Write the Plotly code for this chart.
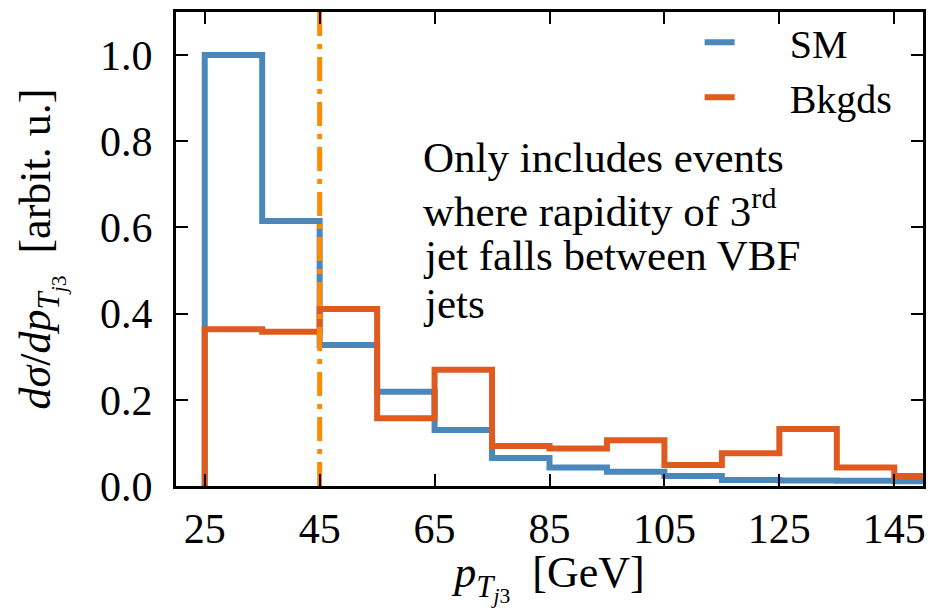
import numpy as np
import plotly.graph_objects as go

edges = [25, 35, 45, 55, 65, 75, 85, 95, 105, 115, 125, 135, 145, 155]
sm_values = [1.0, 0.615, 0.327, 0.219, 0.13, 0.065, 0.043, 0.033, 0.023, 0.014, 0.013, 0.012, 0.011]
bkg_values = [0.364, 0.358, 0.411, 0.157, 0.27, 0.093, 0.087, 0.106, 0.049, 0.076, 0.132, 0.043, 0.023]
series_names = ["SM", "Bkgds"]
cut_value = 45
x_ticks = [25, 45, 65, 85, 105, 125, 145]
y_ticks = [0.0, 0.2, 0.4, 0.6, 0.8, 1.0]
note_lines = ["Only includes events", "where rapidity of 3<sup>rd</sup>",
              "jet falls between VBF", "jets"]

SM_COLOR = "#4a87bb"
BKG_COLOR = "#de5a1e"
CUT_COLOR = "#ff8c00"
FONT = "Liberation Serif"
PAD = "\u00a0" * 5  # gap between legend line sample and label


def step_xy(e, v):
    e = np.asarray(e, float)
    v = np.asarray(v, float)
    xs = np.repeat(e, 2)
    ys = np.concatenate([[0.0], np.repeat(v, 2), [0.0]])
    return xs, ys


fig = go.Figure()
for name, vals, col in zip(series_names, [sm_values, bkg_values], [SM_COLOR, BKG_COLOR]):
    xs, ys = step_xy(edges, vals)
    fig.add_trace(go.Scatter(x=xs, y=ys, mode="lines", name=PAD + name,
                             line=dict(color=col, width=6)))

fig.add_trace(go.Scatter(x=[cut_value, cut_value], y=[0, 1.1], mode="lines",
                         showlegend=False,
                         line=dict(color=CUT_COLOR, width=5, dash="24px,8px,5px,8px")))

axis_common = dict(showline=True, linecolor="black", linewidth=3, mirror="allticks",
                   ticks="inside", ticklen=12, tickwidth=2, tickcolor="black",
                   showgrid=False, zeroline=False,
                   tickfont=dict(family=FONT, size=42, color="black"))

fig.update_xaxes(range=[20, 150], tickvals=x_ticks, ticklabelstandoff=4,
                 title=dict(text="<i>p</i><sub><i>T</i><sub><i>j</i>3</sub></sub>  [GeV]",
                            font=dict(family=FONT, size=44, color="black"), standoff=4),
                 **axis_common)
fig.update_yaxes(range=[0, 1.1], tickvals=y_ticks, tickformat=".1f", ticklabelstandoff=12,
                 title=dict(text="<i>dσ</i>/<i>dp</i><sub><i>T</i><sub><i>j</i>3</sub></sub>  [arbit. u.]",
                            font=dict(family=FONT, size=44, color="black"), standoff=36),
                 **axis_common)

# text block, one annotation per line (tight LaTeX-like line spacing)
line_centers_px = [157, 208, 256, 303]
for txt, py in zip(note_lines, line_centers_px):
    fig.add_annotation(xref="paper", yref="paper", x=0.3276, y=(486 - py) / 474,
                       xanchor="left", yanchor="middle", align="left", showarrow=False,
                       text=txt, font=dict(family=FONT, size=43, color="black"))

fig.update_layout(
    width=933, height=608,
    margin=dict(l=176, r=7, t=12, b=122),
    paper_bgcolor="white", plot_bgcolor="white",
    legend=dict(x=0.701, y=1.005, xanchor="left", yanchor="top", bgcolor="rgba(0,0,0,0)",
                font=dict(family=FONT, size=40, color="black"), tracegroupgap=0),
    showlegend=True,
)

fig.write_html("out.html")
